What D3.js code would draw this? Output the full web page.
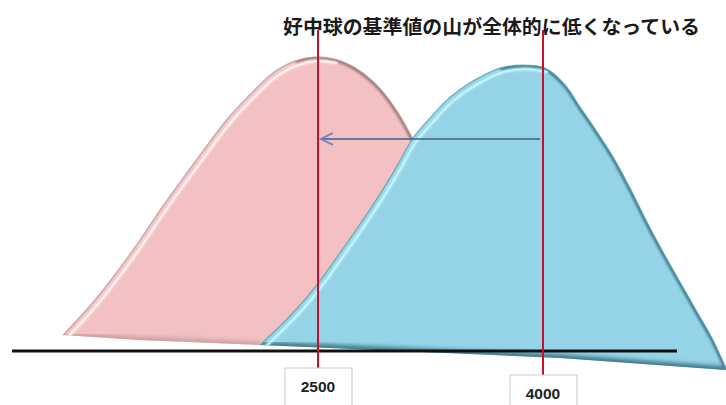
<!DOCTYPE html>
<html>
<head>
<meta charset="utf-8">
<script src="https://cdn.jsdelivr.net/npm/d3@7"></script>
<style>
  html, body { margin: 0; padding: 0; background: #fff; }
  svg { display: block; }
</style>
</head>
<body>
<svg id="chart" width="726" height="405"></svg>
<script>
// Title
const titleText = "好中球の基準値の山が全体的に低くなっている";

// Reference values marked on the axis
const markValues = [2500, 4000];
const markLabels = ["2500", "4000"];

// Earlier distribution (pink): upper profile
const pinkValue  = [800, 1013, 1247, 1480, 1713, 1890, 2050, 2200, 2350, 2470, 2610, 2750, 2910, 3030, 3130, 3250, 3410, 3580];
const pinkHeight = [5.3, 17, 32.3, 49.3, 65.3, 77, 85.7, 92.7, 96.7, 98, 97.3, 94.3, 87.7, 79.7, 71, 60.3, 43.7, 17];
// lower edge (tilted floor of the 3D shape)
const pinkBaseValue  = [2113, 1300, 800];
const pinkBaseHeight = [2, 3.7, 5.3];

// Current distribution (blue): upper profile
const blueValue  = [2113, 2280, 2427, 2547, 2660, 2780, 2913, 3027, 3133, 3247, 3360, 3480, 3580, 3713, 3867, 4013, 4147, 4247, 4360, 4467, 4580, 4693, 4800, 4913, 5027, 5133, 5220];
const blueHeight = [2, 10, 18, 25.7, 33.7, 42.3, 52.3, 61.7, 71, 77.7, 83.7, 88.3, 91.3, 94.3, 95.3, 94.3, 88.7, 81.3, 73, 64.7, 54.3, 43, 33, 23, 13, 3.7, -5.7];
const blueBaseValue  = [5220, 4113, 2113];
const blueBaseHeight = [-6.3, -2.3, 2];

// Height at which the shift arrow is drawn
const arrowLevel = 70.7;

const svg = d3.select("#chart");

const x = d3.scaleLinear().domain([2500, 4000]).range([318, 543]);
const y = d3.scaleLinear().domain([0, 100]).range([351, 51]);

const zip = (xs, ys) => xs.map((v, i) => [v, ys[i]]);
const topLine = d3.line().x(d => x(d[0])).y(d => y(d[1])).curve(d3.curveCatmullRom.alpha(0.5));
const baseLine = d3.line().x(d => x(d[0])).y(d => y(d[1])).curve(d3.curveLinear);

function shapePath(top, base) {
  const t = topLine(top);
  const b = baseLine(base).replace(/^M/, "L");
  return t + b + "Z";
}

const defs = svg.append("defs");
defs.append("filter").attr("id", "soft").attr("x", "-10%").attr("y", "-10%").attr("width", "120%").attr("height", "120%")
  .append("feGaussianBlur").attr("stdDeviation", 1.2);
defs.append("filter").attr("id", "soft2").attr("x", "-10%").attr("y", "-10%").attr("width", "120%").attr("height", "120%")
  .append("feGaussianBlur").attr("stdDeviation", 2.2);

function drawMountain(id, top, base, opt) {
  const d = shapePath(top, base);
  defs.append("clipPath").attr("id", "clip-" + id).append("path").attr("d", d);
  const g = svg.append("g");
  const peakIdx = d3.maxIndex(top, p => p[1]);
  const rising = top.slice(0, peakIdx + 2);
  const falling = top.slice(peakIdx - 1);

  g.append("path").attr("d", d).attr("fill", opt.fill);

  const inner = g.append("g").attr("clip-path", `url(#clip-${id})`);
  // darker floor edge
  inner.append("path").attr("d", baseLine(base))
    .attr("fill", "none").attr("stroke", opt.floor).attr("stroke-width", 7)
    .attr("filter", "url(#soft2)").attr("opacity", 0.85);
  // shaded falling edge
  inner.append("path").attr("d", topLine(falling))
    .attr("fill", "none").attr("stroke", opt.shade).attr("stroke-width", 5)
    .attr("filter", "url(#soft)").attr("opacity", 0.85);
  // highlight just inside the rising edge and crest
  inner.append("path").attr("d", topLine(rising))
    .attr("transform", "translate(3,4)")
    .attr("fill", "none").attr("stroke", opt.light).attr("stroke-width", 2.4)
    .attr("filter", "url(#soft)");
  inner.append("path").attr("d", topLine(rising))
    .attr("transform", "translate(3,4)")
    .attr("fill", "none").attr("stroke", opt.light).attr("stroke-width", 1.2);

  // thin outer rim
  g.append("path").attr("d", topLine(top))
    .attr("fill", "none").attr("stroke", opt.rim).attr("stroke-width", 1.2).attr("opacity", 0.8);
}

drawMountain("pink", zip(pinkValue, pinkHeight), zip(pinkBaseValue, pinkBaseHeight), {
  fill: "#f3c1c3", floor: "#c59a9c", shade: "#8c6e70", light: "#fff4f4", rim: "#b79a9b"
});

drawMountain("blue", zip(blueValue, blueHeight), zip(blueBaseValue, blueBaseHeight), {
  fill: "#95d4e6", floor: "#2f6675", shade: "#336f80", light: "#c8f7ff", rim: "#5f9fb0"
});

// Ground line
svg.append("line")
  .attr("x1", 12).attr("x2", 677)
  .attr("y1", y(0)).attr("y2", y(0))
  .attr("stroke", "#111").attr("stroke-width", 3);

// Shift arrow from 4000 toward 2500
const ay = y(arrowLevel);
const ax1 = x(markValues[1]) - 3, ax2 = x(markValues[0]) + 3;
svg.append("line")
  .attr("x1", ax1).attr("x2", ax2).attr("y1", ay).attr("y2", ay)
  .attr("stroke", "#3f5d8c").attr("stroke-width", 2).attr("opacity", 0.75);
svg.append("path")
  .attr("d", `M${ax2 + 12},${ay - 6} L${ax2},${ay} L${ax2 + 12},${ay + 6}`)
  .attr("fill", "none").attr("stroke", "#6f7fb8").attr("stroke-width", 2).attr("opacity", 0.9);

// Reference lines and their value boxes
const boxDrop = [0, 7];
markValues.forEach((v, i) => {
  const cx = x(v);
  const boxTop = 368 + boxDrop[i];
  svg.append("line")
    .attr("x1", cx).attr("x2", cx).attr("y1", 30).attr("y2", boxTop)
    .attr("stroke", "#c8102e").attr("stroke-width", 2);
  svg.append("rect")
    .attr("x", cx - 33).attr("y", boxTop).attr("width", 67).attr("height", 40)
    .attr("fill", "#fff").attr("stroke", "#c9c9c9").attr("stroke-width", 1);
  svg.append("text")
    .attr("x", cx).attr("y", boxTop + 20)
    .attr("text-anchor", "middle").attr("dominant-baseline", "middle")
    .attr("font-family", "Liberation Sans, Arial, sans-serif")
    .attr("font-weight", "bold").attr("font-size", 15.5)
    .attr("fill", "#222")
    .text(markLabels[i]);
});

// Title
svg.append("text")
  .attr("x", 283).attr("y", 34)
  .attr("font-family", "'Noto Sans CJK JP', sans-serif")
  .attr("font-weight", "bold").attr("font-size", 19.5)
  .attr("textLength", 417).attr("lengthAdjust", "spacingAndGlyphs")
  .attr("fill", "#1a1a1a")
  .text(titleText);
</script>
</body>
</html>
